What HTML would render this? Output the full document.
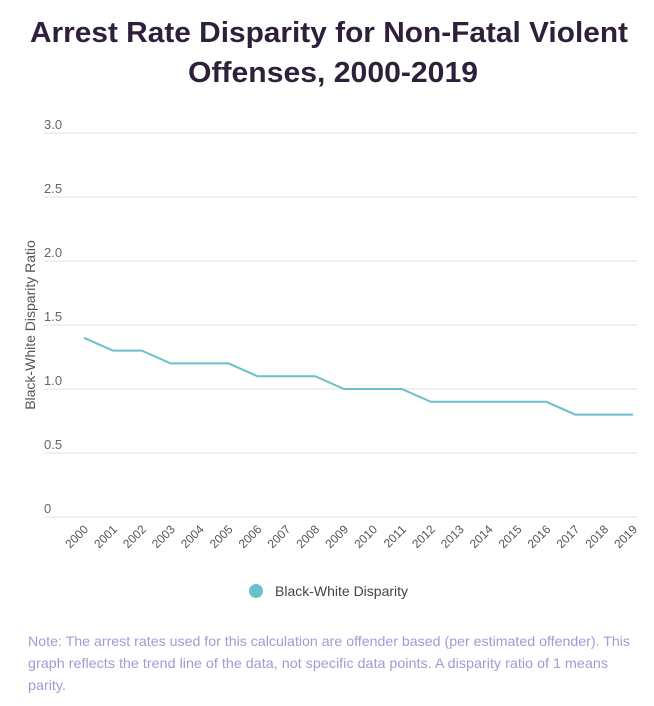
<!DOCTYPE html>
<html><head><meta charset="utf-8"><style>
html,body{margin:0;padding:0;background:#fff;}
svg{display:block;font-family:"Liberation Sans",sans-serif;}
</style></head><body>
<svg id="chart" width="654" height="706" viewBox="0 0 654 706">
<text x="329" y="42" text-anchor="middle" font-size="29" font-weight="bold" fill="#2e1f3a" textLength="598" lengthAdjust="spacingAndGlyphs">Arrest Rate Disparity for Non-Fatal Violent</text>
<text x="333" y="82" text-anchor="middle" font-size="29" font-weight="bold" fill="#2e1f3a" textLength="290" lengthAdjust="spacingAndGlyphs">Offenses, 2000-2019</text>
<g id="grid"></g>
<g id="yticks"></g>
<text transform="translate(35,325) rotate(-90)" text-anchor="middle" font-size="14" fill="#555">Black-White Disparity Ratio</text>
<g id="xticks"></g>
<path id="line" fill="none" stroke="#6cbfcc" stroke-width="2"/>
<g>
<circle cx="256" cy="591" r="7" fill="#6cbfcc"/>
<text x="275" y="596" font-size="14" fill="#444">Black-White Disparity</text>
</g>
<g fill="#9d9dd3" font-size="14">
<text x="28" y="646" textLength="602" lengthAdjust="spacingAndGlyphs">Note: The arrest rates used for this calculation are offender based (per estimated offender). This</text>
<text x="28" y="668" textLength="580" lengthAdjust="spacingAndGlyphs">graph reflects the trend line of the data, not specific data points. A disparity ratio of 1 means</text>
<text x="28" y="690" textLength="38" lengthAdjust="spacingAndGlyphs">parity.</text>
</g>
</svg>
<script>
const years = ["2000","2001","2002","2003","2004","2005","2006","2007","2008","2009","2010","2011","2012","2013","2014","2015","2016","2017","2018","2019"];
const disparity = [1.4,1.3,1.3,1.2,1.2,1.2,1.1,1.1,1.1,1.0,1.0,1.0,0.9,0.9,0.9,0.9,0.9,0.8,0.8,0.8];
const yTicks = [0,0.5,1.0,1.5,2.0,2.5,3.0];
const yTickLabels = ["0","0.5","1.0","1.5","2.0","2.5","3.0"];
const NS="http://www.w3.org/2000/svg";
const y = v => 517 - v/3*384;
const x = i => 84 + i*(633-84)/(years.length-1);
const grid=document.getElementById('grid'), yt=document.getElementById('yticks'), xt=document.getElementById('xticks');
yTicks.forEach((v,i)=>{
  const l=document.createElementNS(NS,'line');
  
  
  l.setAttribute('x1',44);l.setAttribute('x2',637);l.setAttribute('y1',y(v));l.setAttribute('y2',y(v));
  l.setAttribute('stroke','#e2e2e2');l.setAttribute('stroke-width','1');
  grid.appendChild(l);
  const t=document.createElementNS(NS,'text');
  
  
  t.setAttribute('x',44);t.setAttribute('y',y(v)-4);t.setAttribute('font-size','13');t.setAttribute('fill','#666');
  t.textContent=yTickLabels[i];
  yt.appendChild(t);
});
years.forEach((yr,i)=>{
  const t=document.createElementNS(NS,'text');
  
  
  t.setAttribute('transform','translate('+(x(i)+5)+',530) rotate(-45)');
  t.setAttribute('text-anchor','end');t.setAttribute('font-size','12');t.setAttribute('fill','#555');
  t.textContent=yr;
  xt.appendChild(t);
});
document.getElementById('line').setAttribute('d',disparity.map((v,i)=>(i?'L':'M')+x(i)+','+y(v)).join(' '));
</script>
</body></html>
